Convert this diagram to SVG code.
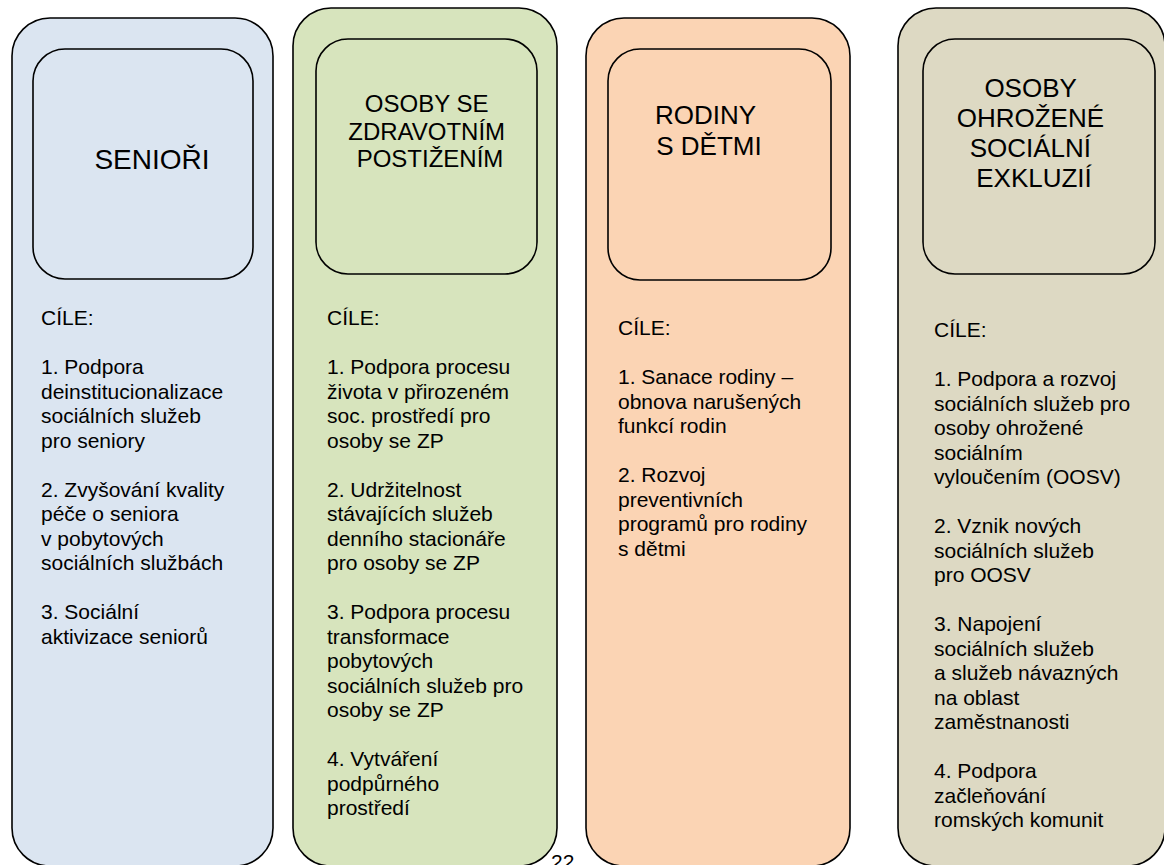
<svg xmlns="http://www.w3.org/2000/svg" width="1164" height="865" viewBox="0 0 1164 865">
  <style>
    .outer { stroke: #000; stroke-width: 1.6; }
    .inner { stroke: #000; stroke-width: 1.6; }
    .head { font-family: "Liberation Sans", Arial, sans-serif; fill: #000; text-anchor: middle; }
    .body { font-family: "Liberation Sans", Arial, sans-serif; font-size: 21px; fill: #000; }
    .blue { fill: #dbe5f1; }
    .green { fill: #d7e4bd; }
    .orange { fill: #fbd4b4; }
    .tan { fill: #ddd9c3; }
  </style>
  <rect x="0" y="0" width="1164" height="865" fill="#ffffff"/>

  <g id="col-seniori">
    <rect class="outer blue" x="12" y="18" width="261" height="848" rx="38" ry="38"/>
    <rect class="inner blue" x="33" y="49" width="220" height="230" rx="32" ry="32"/>
    <text class="head" x="152" y="169" font-size="28">SENIOŘI</text>
    <text class="body">
      <tspan x="41" y="325">CÍLE:</tspan>
      <tspan x="41" y="374">1. Podpora</tspan>
      <tspan x="41" y="398.5">deinstitucionalizace</tspan>
      <tspan x="41" y="423">sociálních služeb</tspan>
      <tspan x="41" y="447.5">pro seniory</tspan>
      <tspan x="41" y="496.5">2. Zvyšování kvality</tspan>
      <tspan x="41" y="521">péče o seniora</tspan>
      <tspan x="41" y="545.5">v pobytových</tspan>
      <tspan x="41" y="570">sociálních službách</tspan>
      <tspan x="41" y="619">3. Sociální</tspan>
      <tspan x="41" y="643.5">aktivizace seniorů</tspan>
    </text>
  </g>

  <g id="col-osoby-zp">
    <rect class="outer green" x="293" y="8" width="264" height="858" rx="38" ry="38"/>
    <rect class="inner green" x="316" y="39" width="221" height="235" rx="32" ry="32"/>
    <text class="head" font-size="24">
      <tspan x="430" y="112">OSOBY SE</tspan>
      <tspan x="430" y="140">ZDRAVOTNÍM</tspan>
      <tspan x="430" y="167">POSTIŽENÍM</tspan>
    </text>
    <text class="body">
      <tspan x="327" y="325">CÍLE:</tspan>
      <tspan x="327" y="374">1. Podpora procesu</tspan>
      <tspan x="327" y="398.5">života v přirozeném</tspan>
      <tspan x="327" y="423">soc. prostředí pro</tspan>
      <tspan x="327" y="447.5">osoby se ZP</tspan>
      <tspan x="327" y="496.5">2. Udržitelnost</tspan>
      <tspan x="327" y="521">stávajících služeb</tspan>
      <tspan x="327" y="545.5">denního stacionáře</tspan>
      <tspan x="327" y="570">pro osoby se ZP</tspan>
      <tspan x="327" y="619">3. Podpora procesu</tspan>
      <tspan x="327" y="643.5">transformace</tspan>
      <tspan x="327" y="668">pobytových</tspan>
      <tspan x="327" y="692.5">sociálních služeb pro</tspan>
      <tspan x="327" y="717">osoby se ZP</tspan>
      <tspan x="327" y="766">4. Vytváření</tspan>
      <tspan x="327" y="790.5">podpůrného</tspan>
      <tspan x="327" y="815">prostředí</tspan>
    </text>
  </g>

  <g id="col-rodiny">
    <rect class="outer orange" x="586" y="18" width="264" height="848" rx="38" ry="38"/>
    <rect class="inner orange" x="608" y="49" width="223" height="231" rx="32" ry="32"/>
    <text class="head" font-size="26">
      <tspan x="709" y="124">RODINY</tspan>
      <tspan x="709" y="155">S DĚTMI</tspan>
    </text>
    <text class="body">
      <tspan x="618" y="335">CÍLE:</tspan>
      <tspan x="618" y="384">1. Sanace rodiny –</tspan>
      <tspan x="618" y="408.5">obnova narušených</tspan>
      <tspan x="618" y="433">funkcí rodin</tspan>
      <tspan x="618" y="482">2. Rozvoj</tspan>
      <tspan x="618" y="506.5">preventivních</tspan>
      <tspan x="618" y="531">programů pro rodiny</tspan>
      <tspan x="618" y="555.5">s dětmi</tspan>
    </text>
  </g>

  <g id="col-exkluze">
    <rect class="outer tan" x="898" y="8" width="267" height="858" rx="38" ry="38"/>
    <rect class="inner tan" x="923" y="39" width="232" height="235" rx="32" ry="32"/>
    <text class="head" font-size="26">
      <tspan x="1034" y="97">OSOBY</tspan>
      <tspan x="1034" y="127">OHROŽENÉ</tspan>
      <tspan x="1034" y="157">SOCIÁLNÍ</tspan>
      <tspan x="1034" y="187">EXKLUZIÍ</tspan>
    </text>
    <text class="body">
      <tspan x="934" y="337">CÍLE:</tspan>
      <tspan x="934" y="386">1. Podpora a rozvoj</tspan>
      <tspan x="934" y="410.5">sociálních služeb pro</tspan>
      <tspan x="934" y="435">osoby ohrožené</tspan>
      <tspan x="934" y="459.5">sociálním</tspan>
      <tspan x="934" y="484">vyloučením (OOSV)</tspan>
      <tspan x="934" y="533">2. Vznik nových</tspan>
      <tspan x="934" y="557.5">sociálních služeb</tspan>
      <tspan x="934" y="582">pro OOSV</tspan>
      <tspan x="934" y="631">3. Napojení</tspan>
      <tspan x="934" y="655.5">sociálních služeb</tspan>
      <tspan x="934" y="680">a služeb návazných</tspan>
      <tspan x="934" y="704.5">na oblast</tspan>
      <tspan x="934" y="729">zaměstnanosti</tspan>
      <tspan x="934" y="778">4. Podpora</tspan>
      <tspan x="934" y="802.5">začleňování</tspan>
      <tspan x="934" y="827">romských komunit</tspan>
    </text>
  </g>

  <text id="page-number" class="body" x="551" y="869">22</text>
</svg>
